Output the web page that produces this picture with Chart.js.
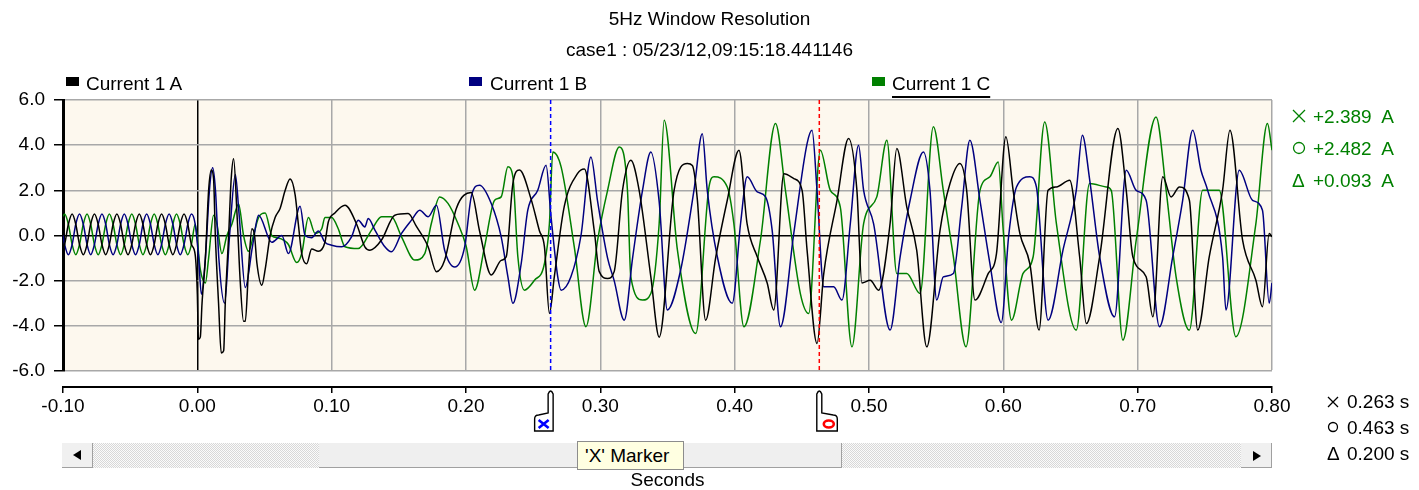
<!DOCTYPE html>
<html>
<head>
<meta charset="utf-8">
<title>5Hz Window Resolution</title>
<script src="https://cdn.jsdelivr.net/npm/chart.js@4.4.1/dist/chart.umd.min.js"></script>
<style>
body{margin:0;background:#fff}
#wrap{position:relative;width:1419px;height:490px;overflow:hidden;font-family:"Liberation Sans",Arial,sans-serif}
#wrap canvas{position:absolute;left:0;top:0}
.t{position:absolute;font-size:19px;line-height:19px;white-space:pre;color:#000}
.g{color:#008000}
.sw{position:absolute;top:77px;width:13px;height:9px}
.ico{position:absolute}
.sb{position:absolute;left:62px;top:443px;width:1210px;height:25px;background:repeating-conic-gradient(#d8d8d8 0 25%,#fbfbfb 0 50%) 0 0/2px 2px}
.btn{position:absolute;top:0;width:30px;height:24px;background:#f0f0f0;border-right:1px solid #a0a0a0;border-bottom:1px solid #a0a0a0}
.thumb{position:absolute;top:0;left:257px;width:522px;height:24px;background:#efefef;border-right:1px solid #a0a0a0;border-bottom:1px solid #a0a0a0}
.arrL{position:absolute;left:11px;top:7px;width:0;height:0;border-top:5px solid transparent;border-bottom:5px solid transparent;border-right:8px solid #000}
.arrR{position:absolute;left:12px;top:8px;width:0;height:0;border-top:5px solid transparent;border-bottom:5px solid transparent;border-left:8px solid #000}
.tip{position:absolute;left:577px;top:441px;width:98px;height:27px;padding-left:7px;background:#ffffe1;border:1px solid #8c8c8c;font-size:19px;line-height:27px;white-space:pre}
</style>
</head>
<body>
<div id="wrap">
<canvas id="chart" width="1419" height="490"></canvas>

<div class="sw" style="left:66px;background:#000"></div>
<div class="t" style="left:86px;top:74px">Current 1 A</div>
<div class="sw" style="left:469px;background:#000080"></div>
<div class="t" style="left:490px;top:74px">Current 1 B</div>
<div class="sw" style="left:872px;background:#008000"></div>
<div class="t" style="left:892px;top:74px;text-decoration:underline;text-underline-offset:6px;text-decoration-thickness:1.5px">Current 1 C</div>

<svg class="ico" style="left:1292px;top:109px" width="14" height="14"><path d="M1 1L13 13M13 1L1 13" stroke="#008000" stroke-width="1.3" fill="none"/></svg>
<div class="t g" id="valX" style="left:1313px;top:107px"></div>
<svg class="ico" style="left:1292px;top:141px" width="14" height="14"><circle cx="7" cy="7" r="5.5" stroke="#008000" stroke-width="1.3" fill="none"/></svg>
<div class="t g" id="valO" style="left:1313px;top:139px"></div>
<div class="t g" style="left:1292px;top:171px">Δ</div>
<div class="t g" id="valD" style="left:1313px;top:171px"></div>

<svg class="ico" style="left:1327px;top:396px" width="12" height="12"><path d="M1 1L11 11M11 1L1 11" stroke="#000" stroke-width="1.3" fill="none"/></svg>
<div class="t" id="timeX" style="left:1347px;top:392px"></div>
<svg class="ico" style="left:1327px;top:421px" width="12" height="12"><circle cx="6" cy="6" r="4.5" stroke="#000" stroke-width="1.3" fill="none"/></svg>
<div class="t" id="timeO" style="left:1347px;top:418px"></div>
<div class="t" style="left:1327px;top:444px">Δ</div>
<div class="t" id="timeD" style="left:1347px;top:444px"></div>

<div class="sb">
<div class="btn" style="left:0"><div class="arrL"></div></div>
<div class="thumb"></div>
<div class="btn" style="left:1179px"><div class="arrR"></div></div>
</div>
<div class="tip">'X' Marker</div>
</div>

<script>

// pre-fault samples (shared time grid), steady 60 Hz
const preTimes = [-0.1000,
-0.0988,-0.0960,-0.0932,-0.0905,-0.0877,-0.0849,
-0.0821,-0.0794,-0.0766,-0.0738,-0.0710,-0.0682,
-0.0655,-0.0627,-0.0599,-0.0571,-0.0544,-0.0516,
-0.0488,-0.0460,-0.0432,-0.0405,-0.0377,-0.0349,
-0.0321,-0.0294,-0.0266,-0.0238,-0.0210,-0.0182,
-0.0155,-0.0127,-0.0099,-0.0071,-0.0044,-0.0016]

const preA = [-0.59,
-0.4,0.5,0.95,0.5,-0.4,-0.85,
-0.4,0.5,0.95,0.5,-0.4,-0.85,
-0.4,0.5,0.95,0.5,-0.4,-0.85,
-0.4,0.5,0.95,0.5,-0.4,-0.85,
-0.4,0.5,0.95,0.5,-0.4,-0.85,
-0.4,0.5,0.95,0.5,-0.4,-0.85]

const preB = [0.0,
-0.4,-0.85,-0.4,0.5,0.95,0.5,
-0.4,-0.85,-0.4,0.5,0.95,0.5,
-0.4,-0.85,-0.4,0.5,0.95,0.5,
-0.4,-0.85,-0.4,0.5,0.95,0.5,
-0.4,-0.85,-0.4,0.5,0.95,0.5,
-0.4,-0.85,-0.4,0.5,0.95,0.5]

const preC = [0.85,
0.95,0.5,-0.4,-0.85,-0.4,0.5,
0.95,0.5,-0.4,-0.85,-0.4,0.5,
0.95,0.5,-0.4,-0.85,-0.4,0.5,
0.95,0.5,-0.4,-0.85,-0.4,0.5,
0.95,0.5,-0.4,-0.85,-0.4,0.5,
0.95,0.5,-0.4,-0.85,-0.4,0.5]

// after the fault at t = 0 (seconds / amps)
const timesA = [
0.0000,0.0008,0.0022,0.0035,0.0060,0.0084,0.0104,0.0121,0.0134,0.0158,
0.0178,0.0196,0.0208,0.0233,0.0252,0.0270,0.0295,0.0319,0.0344,0.0357,
0.0381,0.0406,0.0426,0.0443,0.0480,0.0505,0.0542,0.0579,0.0616,0.0654,
0.0690,0.0728,0.0752,0.0777,0.0814,0.0851,0.0901,0.0950,0.0975,0.1024,
0.1099,
0.1186,0.1247,0.1285,0.1371,0.1470,0.1569,0.1631,0.1718,0.1780,0.1841,
0.1928,0.2039,0.2101,0.2188,0.2262,0.2299,0.2349,0.2398,0.2485,0.2547,
0.2584,0.2621,0.2658,0.2732,0.2831,0.2881,0.2955,0.2992,0.3054,0.3103,
0.3165,0.3227,0.3289,0.3376,0.3438,0.3549,0.3648,0.3685,0.3722,0.3784,
0.3858,0.3945,0.4032,0.4093,0.4168,0.4242,0.4291,0.4366,0.4440,0.4502,
0.4539,0.4613,0.4663,0.4762,0.4848,0.4910,0.4947,0.5009,0.5071,0.5157,
0.5207,0.5281,0.5355,0.5430,0.5529,0.5603,0.5677,0.5727,0.5789,0.5888,
0.5949,0.6019,0.6073,0.6123,0.6197,0.6266,0.6333,0.6395,0.6494,0.6568,
0.6618,0.6717,0.6853,0.6915,0.6964,0.7063,0.7113,0.7187,0.7249,0.7311,
0.7385,0.7447,0.7533,0.7632,0.7687,0.7781,0.7880,0.7929,0.7979,0.8000]

const currentA = [
-2.6,-4.6,-4.5,-3.0,-1.0,2.0,2.9,2.5,0.0,-3.0,
-5.2,-5.1,-3.0,0.0,2.5,3.4,1.0,-2.0,-3.8,-3.8,
-1.5,0.3,0.0,-1.2,-2.2,-1.5,0.0,0.8,1.2,2.0,
2.5,1.8,0.5,-0.8,-1.25,-0.6,-0.7,-0.3,0.6,1.0,
1.34,
0.5,-0.5,-0.65,-0.2,0.9,0.97,0.4,-0.5,-1.6,-1.1,
1.2,1.9,0.2,-1.75,-1.1,-0.95,2.3,2.9,1.6,0.2,
-0.5,-3.45,-1.8,1.3,2.75,2.95,0.2,-1.6,-1.9,-1.6,
2.0,3.33,2.0,-1.83,-4.5,2.0,3.19,3.1,1.6,-3.75,
-1.0,1.56,3.78,0.5,-0.94,-2.1,-3.3,2.73,2.52,2.0,
-0.65,-4.78,-1.7,1.56,4.3,2.0,-2.1,-1.98,-2.42,0.53,
3.85,1.27,-0.65,-4.93,0.24,2.3,3.19,2.0,-2.86,-1.68,
-0.8,4.37,2.0,0.09,-1.24,-4.19,2.0,2.15,2.45,-0.94,
-3.9,-0.94,4.74,2.0,-0.94,-1.83,-3.6,2.6,1.71,2.15,
1.56,-4.19,-0.94,2.0,4.66,-0.21,-1.98,-3.16,0.09,-0.06]

const timesB = [
0.0010,0.0030,0.0060,0.0090,0.0114,0.0135,0.0160,0.0203,0.0240,0.0283,
0.0310,0.0357,0.0410,0.0456,0.0554,0.0629,0.0678,0.0765,0.0802,0.0851,
0.0901,0.0950,0.1000,0.1074,
0.1148,0.1198,0.1247,0.1272,0.1322,0.1396,0.1445,0.1520,0.1594,0.1656,
0.1718,0.1780,0.1841,0.1916,0.1990,0.2039,0.2101,0.2188,0.2262,0.2312,
0.2349,0.2411,0.2460,0.2534,0.2596,0.2633,0.2683,0.2708,0.2781,0.2856,
0.2930,0.2980,0.3054,0.3103,0.3178,0.3240,0.3314,0.3376,0.3438,0.3499,
0.3598,0.3697,0.3759,0.3796,0.3871,0.3982,0.4044,0.4093,0.4168,0.4230,
0.4279,0.4341,0.4440,0.4539,0.4576,0.4613,0.4663,0.4737,0.4799,0.4861,
0.4922,0.4960,0.5034,0.5157,0.5232,0.5306,0.5405,0.5454,0.5504,0.5553,
0.5628,0.5690,0.5751,0.5826,0.5900,0.5985,0.6040,0.6098,0.6197,0.6246,
0.6333,0.6444,0.6543,0.6588,0.6642,0.6717,0.6828,0.6915,0.6989,0.7063,
0.7162,0.7261,0.7335,0.7410,0.7471,0.7521,0.7632,0.7657,0.7756,0.7855,
0.7929,0.7979,0.8000]

const currentB = [
-1.0,-2.6,-1.0,2.0,3.0,2.0,-1.0,-3.0,0.0,2.7,
1.0,-2.3,-0.5,0.9,-0.3,0.0,-0.8,1.3,0.0,-0.1,
0.2,-0.3,-0.43,-0.5,
-0.06,0.68,0.38,0.75,0.24,-0.5,-0.72,0.09,0.68,1.12,
0.83,1.34,-0.65,-1.39,-0.5,1.71,2.23,1.42,-0.06,-1.83,
-3.0,-1.24,1.12,2.0,3.11,0.83,-1.83,-2.42,-1.83,0.0,
3.48,1.5,-1.0,-2.0,-3.75,-1.0,2.0,3.7,1.5,-3.3,
-1.53,2.0,4.51,2.0,-0.94,-3.0,0.53,2.6,1.93,1.71,
0.24,-4.04,0.09,4.07,4.66,2.0,-2.27,-2.27,-2.86,0.53,
4.0,2.0,0.53,-4.19,-0.94,1.56,3.7,2.0,-2.86,-1.83,
-1.68,1.27,4.22,1.56,-1.24,-3.85,0.0,2.15,2.6,2.15,
-3.75,-0.65,2.0,4.44,2.5,-0.94,-3.6,2.89,2.0,1.56,
-4.04,-0.94,1.56,4.66,2.89,2.0,-0.94,-3.3,2.89,1.56,
1.12,-3.0,-2.1]

const timesC = [
0.0022,0.0060,0.0084,0.0121,0.0146,0.0183,0.0220,0.0257,0.0307,0.0344,
0.0381,0.0418,0.0456,0.0505,0.0554,0.0592,0.0641,0.0678,0.0740,0.0777,
0.0827,0.0876,0.0926,0.0950,0.1000,0.1049,0.1099,
0.1198,0.1297,
0.1371,0.1445,0.1520,0.1619,0.1693,0.1742,0.1804,0.1866,0.1940,0.2002,
0.2064,0.2138,0.2213,0.2262,0.2312,0.2349,0.2386,0.2435,0.2510,0.2584,
0.2621,0.2646,0.2708,0.2806,0.2893,0.2980,0.3054,0.3141,0.3202,0.3227,
0.3314,0.3376,0.3438,0.3475,0.3574,0.3710,0.3809,0.3846,0.3945,0.3994,
0.4069,0.4192,0.4304,0.4378,0.4489,0.4551,0.4638,0.4712,0.4786,0.4873,
0.4960,0.5058,0.5133,0.5207,0.5281,0.5380,0.5479,0.5553,0.5628,0.5722,
0.5826,0.5900,0.5962,0.5999,0.6061,0.6147,0.6222,0.6308,0.6395,0.6543,
0.6642,0.6766,0.6803,0.6890,0.6989,0.7137,0.7212,0.7286,0.7385,0.7484,
0.7607,0.7731,0.7880,0.7966,0.8000]

const currentC = [
-1.5,-2.1,-1.0,0.9,0.5,-0.8,0.0,0.5,1.4,0.0,
-0.7,0.0,0.8,1.0,0.0,-0.1,-0.2,-0.4,-1.2,-0.8,
0.8,0.1,0.3,0.8,0.8,0.3,-0.5,
-0.58,0.24,
0.83,0.83,-0.06,-1.09,-0.8,0.53,1.71,1.42,0.53,-0.5,
-2.42,-0.5,1.56,1.71,3.04,2.6,-0.94,-2.42,-1.98,-1.24,
0.53,3.7,3.04,-0.5,-4.04,-0.21,2.0,3.92,2.0,-1.83,
-2.86,-2.57,0.53,5.1,-0.65,-4.34,2.15,2.6,2.15,0.53,
-4.04,-0.21,4.96,2.0,-2.57,-3.45,3.78,2.0,1.27,-4.93,
0.53,1.71,4.22,-1.68,-1.68,-2.57,4.81,2.0,-0.94,-4.93,
2.0,2.6,3.26,0.24,-3.75,-1.68,-0.94,5.03,0.53,-4.19,
2.3,2.15,2.0,-4.63,-0.21,5.25,2.0,-1.83,-4.19,2.0,
2.0,-4.48,0.53,4.96,3.78]

const seriesNames = ["Current 1 A","Current 1 B","Current 1 C"]
const seriesColors = ["#000000","#000080","#008000"]

const markerTimes = [0.263, 0.463]
const deltaTime = 0.200
const markerValues = [2.389, 2.482, 0.093]   // Current 1 C at X, at O, and the difference

const xMin = -0.1, xMax = 0.8, xStep = 0.1
const yMin = -6, yMax = 6, yStep = 2


document.getElementById("valX").textContent = "+" + markerValues[0].toFixed(3) + "  A"
document.getElementById("valO").textContent = "+" + markerValues[1].toFixed(3) + "  A"
document.getElementById("valD").textContent = "+" + markerValues[2].toFixed(3) + "  A"
document.getElementById("timeX").textContent = markerTimes[0].toFixed(3) + " s"
document.getElementById("timeO").textContent = markerTimes[1].toFixed(3) + " s"
document.getElementById("timeD").textContent = deltaTime.toFixed(3) + " s"


function toPoints(times, values){
return times.map((t,i)=>({x:t, y:values[i]}))
}

function isZero(v){ return Math.abs(v) < 1e-9 }

const gridGray = "#a8a8a8"

Chart.defaults.font.family = '"Liberation Sans", Arial, sans-serif'
Chart.defaults.font.size = 19
Chart.defaults.color = "#000"


const plotBackground = {
id:"plotBackground",
beforeDraw(chart){
const {ctx, chartArea:a} = chart
ctx.save()
ctx.fillStyle = "#fff"
ctx.fillRect(0,0,chart.width,chart.height)
ctx.fillStyle = "#fdf8ee"
ctx.fillRect(a.left,a.top,a.right-a.left,a.bottom-a.top)
ctx.restore()
}
}

// the time axis sits a little below the plot, like the original
const axisGap = {
id:"axisGap",
afterLayout(chart){
chart.scales.x.top += 16
}
}

function drawFlag(ctx, px, top, dir, color, kind){
ctx.save()
ctx.beginPath()
ctx.moveTo(px-2.5, top+4)
ctx.quadraticCurveTo(px, top-2, px+2.5, top+4)
if(dir<0){
ctx.lineTo(px+2.5, top+41)
ctx.lineTo(px-16, top+41)
ctx.lineTo(px-16, top+29)
ctx.quadraticCurveTo(px-16, top+25, px-12, top+25)
ctx.lineTo(px-2.5, top+23)
}else{
ctx.lineTo(px+2.5, top+23)
ctx.lineTo(px+14, top+25)
ctx.quadraticCurveTo(px+18, top+25, px+18, top+29)
ctx.lineTo(px+18, top+41)
ctx.lineTo(px-2.5, top+41)
}
ctx.closePath()
ctx.fillStyle = "#fff"
ctx.fill()
ctx.strokeStyle = "#000"
ctx.lineWidth = 1.4
ctx.stroke()

ctx.strokeStyle = color
ctx.lineWidth = 2.6
const cy = top + 34
if(kind=="x"){
const cx = px - 7
ctx.beginPath()
ctx.moveTo(cx-5, cy-4); ctx.lineTo(cx+5, cy+4)
ctx.moveTo(cx+5, cy-4); ctx.lineTo(cx-5, cy+4)
ctx.stroke()
}else{
const cx = px + 9.5
ctx.beginPath()
ctx.ellipse(cx, cy, 5, 3.5, 0, 0, Math.PI*2)
ctx.stroke()
}
ctx.restore()
}

const markerFlags = {
id:"markerFlags",
afterDraw(chart){
const xs = chart.scales.x
const top = xs.top + 3
drawFlag(chart.ctx, xs.getPixelForValue(markerTimes[0]), top, -1, "#0000ff", "x")
drawFlag(chart.ctx, xs.getPixelForValue(markerTimes[1]), top, 1, "#ff0000", "o")
}
}


const waveStyle = {
borderWidth:1.5,
pointRadius:0,
cubicInterpolationMode:"monotone",
fill:false
}

new Chart(document.getElementById("chart"),{

type:"line",

data:{
datasets:[
{label:"X marker", data:[{x:markerTimes[0],y:yMax},{x:markerTimes[0],y:yMin}], borderColor:"#0000ff", borderWidth:1.5, borderDash:[4,3], pointRadius:0},
{label:"O marker", data:[{x:markerTimes[1],y:yMax},{x:markerTimes[1],y:yMin}], borderColor:"#ff0000", borderWidth:1.5, borderDash:[4,3], pointRadius:0},
{...waveStyle, label:seriesNames[0], borderColor:seriesColors[0], data:toPoints(preTimes.concat(timesA), preA.concat(currentA))},
{...waveStyle, label:seriesNames[1], borderColor:seriesColors[1], data:toPoints(preTimes.concat(timesB), preB.concat(currentB))},
{...waveStyle, label:seriesNames[2], borderColor:seriesColors[2], data:toPoints(preTimes.concat(timesC), preC.concat(currentC))}
]
},

options:{
responsive:false,
animation:false,
events:[],
layout:{padding:0},
plugins:{
legend:{display:false},
tooltip:{enabled:false},
title:{display:true, text:"5Hz Window Resolution", color:"#000", font:{size:19, weight:"normal"}, padding:{top:8,bottom:9}},
subtitle:{display:true, text:"case1 : 05/23/12,09:15:18.441146", color:"#000", font:{size:19, weight:"normal"}, padding:{top:0,bottom:37.4}}
},
scales:{
x:{
type:"linear",
min:xMin, max:xMax,
afterFit:s=>{ s.height = 119 },
ticks:{stepSize:xStep, padding:2, color:"#000", maxRotation:0, autoSkip:false,
callback:v=> isZero(v) ? "0.00" : Number(v).toFixed(2)},
grid:{color:c=> c.tick && isZero(c.tick.value) ? "#000" : gridGray, lineWidth:1.5, tickLength:6, tickColor:"#000", tickWidth:1.5},
border:{display:true, color:"#000", width:2},
title:{display:true, text:"Seconds", color:"#000", font:{size:19, lineHeight:1}, padding:{top:0,bottom:0}}
},
y:{
type:"linear",
min:yMin, max:yMax,
afterFit:s=>{ s.width = 63 },
ticks:{stepSize:yStep, padding:9, color:"#000",
callback:v=> isZero(v) ? "0.0" : Number(v).toFixed(1)},
grid:{color:c=> c.tick && isZero(c.tick.value) ? "#000" : gridGray, lineWidth:1.5, tickLength:9, tickColor:"#000", tickWidth:1.5},
border:{display:true, color:"#000", width:3}
},
side:{
type:"linear",
position:"right",
afterFit:s=>{ s.width = 147 },
ticks:{display:false},
grid:{display:false},
border:{display:false}
}
}
},

plugins:[plotBackground, axisGap, markerFlags]

})

</script>
</body>
</html>
